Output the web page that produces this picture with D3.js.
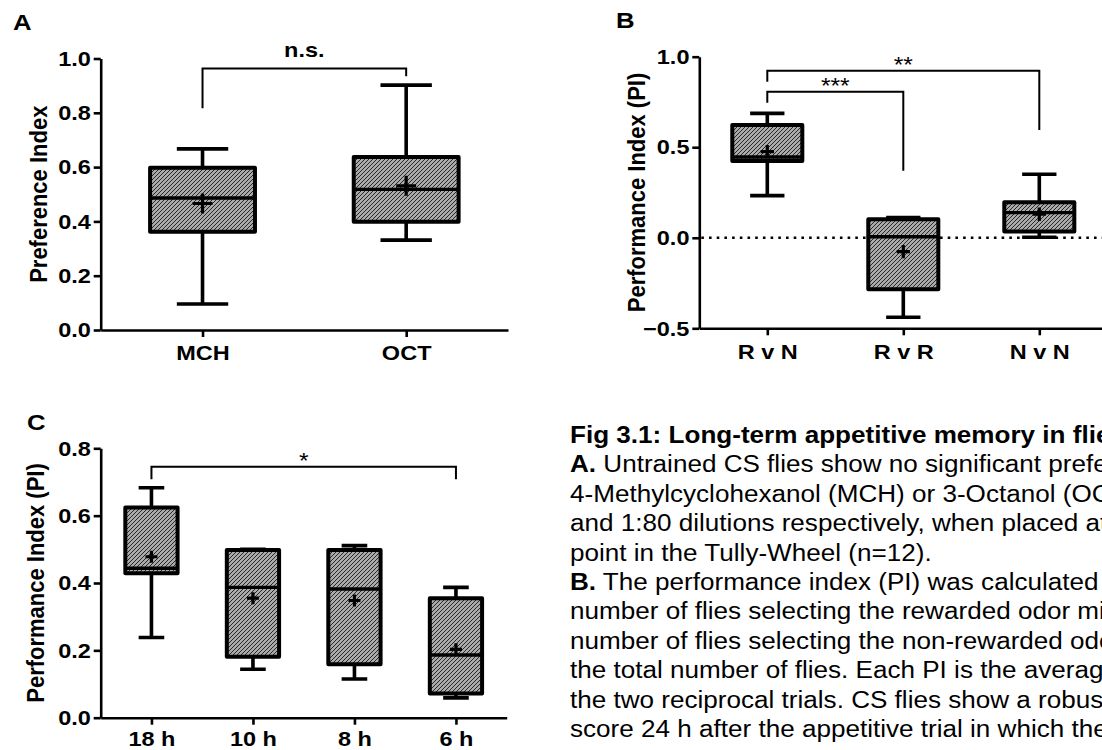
<!DOCTYPE html>
<html><head><meta charset="utf-8">
<script src="https://cdn.jsdelivr.net/npm/d3@7"></script>
<style>
body{margin:0;background:#fff;}
svg{display:block;overflow:hidden;font-family:"Liberation Sans",Arial,sans-serif;}
</style>
</head><body>
<svg id="chart" width="1102" height="750"></svg>
<script>
// ---------- DATA ----------
// Panel A
const catsA = ["MCH", "OCT"];
const minA  = [0.096, 0.331];
const q1A   = [0.362, 0.399];
const medA  = [0.486, 0.518];
const q3A   = [0.598, 0.637];
const maxA  = [0.667, 0.902];
const meanA = [0.466, 0.531];
const ticksA = [0, 0.2, 0.4, 0.6, 0.8, 1.0];
const sigA = [{from: "MCH", to: "OCT", y: 0.963, yFrom: 0.817, yTo: 0.935, label: "n.s."}];

// Panel B
const catsB = ["R v N", "R v R", "N v N"];
const minB  = [0.233, -0.439, 0.003];
const q1B   = [0.424, -0.284, 0.034];
const medB  = [0.446, 0.006, 0.139];
const q3B   = [0.623, 0.102, 0.196];
const maxB  = [0.687, 0.111, 0.351];
const meanB = [0.476, -0.077, 0.130];
const ticksB = [-0.5, 0, 0.5, 1.0];
const sigB = [
  {from: "R v N", to: "N v N", y: 0.923, yFrom: 0.862, yTo: 0.595, label: "**"},
  {from: "R v N", to: "R v R", y: 0.807, yFrom: 0.746, yTo: 0.370, label: "***"}
];

// Panel C
const catsC = ["18 h", "10 h", "8 h", "6 h"];
const minC  = [0.238, 0.144, 0.115, 0.059];
const q1C   = [0.429, 0.181, 0.159, 0.072];
const medC  = [0.444, 0.387, 0.382, 0.186];
const q3C   = [0.624, 0.498, 0.498, 0.355];
const maxC  = [0.683, 0.500, 0.511, 0.387];
const meanC = [0.478, 0.355, 0.348, 0.203];
const ticksC = [0, 0.2, 0.4, 0.6, 0.8];
const sigC = [{from: "18 h", to: "6 h", y: 0.745, yFrom: 0.708, yTo: 0.708, label: "*"}];

// Caption
const captionTitle = "Fig 3.1: Long-term appetitive memory in flies";
const captionLines = [
  ["A.", " Untrained CS flies show no significant preference"],
  ["", "4-Methylcyclohexanol (MCH) or 3-Octanol (OCT)"],
  ["", "and 1:80 dilutions respectively, when placed at"],
  ["", "point in the Tully-Wheel (n=12)."],
  ["B.", " The performance index (PI) was calculated as"],
  ["", "number of flies selecting the rewarded odor minus"],
  ["", "number of flies selecting the non-rewarded odor"],
  ["", "the total number of flies. Each PI is the average of"],
  ["", "the two reciprocal trials. CS flies show a robust"],
  ["", "score 24 h after the appetitive trial in which the"]
];

// ---------- DRAWING ----------
const SX = 1.12; // horizontal glyph stretch of the reference
const svg = d3.select("#chart");
const defs = svg.append("defs");
const pat = defs.append("pattern").attr("id", "hatch")
  .attr("patternUnits", "userSpaceOnUse").attr("width", 4).attr("height", 4);
pat.append("rect").attr("width", 4).attr("height", 4).attr("fill", "#aaaaaa");
pat.append("path").attr("d", "M-1,1 l2,-2 M0,4 l4,-4 M3,5 l2,-2")
  .attr("stroke", "#1a1a1a").attr("stroke-width", 0.9);

function txt(g, x, y, s, o) {
  const t = g.append("text")
    .attr("transform", `translate(${x},${y}) scale(${SX},1)` + (o.rotate ? ` rotate(${o.rotate})` : ""))
    .attr("font-size", o.size).attr("font-weight", o.weight || "normal")
    .attr("text-anchor", o.anchor || "start").attr("fill", "#000");
  t.text(s);
  return t;
}

function panel(cfg) {
  const g = svg.append("g");
  const x = d3.scalePoint().domain(cfg.cats).range(cfg.xr).padding(0.5);
  const y = d3.scaleLinear().domain(cfg.yd).range(cfg.yr);
  const step = x.step();
  const bw = step * 0.515, cw = bw * 0.49, pm = Math.max(6, bw * 0.095);

  // zero line
  if (cfg.zeroLine) {
    g.append("line").attr("x1", cfg.xr[0] + 2).attr("x2", 1102)
      .attr("y1", y(0)).attr("y2", y(0))
      .attr("stroke", "#000").attr("stroke-width", 2.6)
      .attr("stroke-dasharray", "2.6,5.1");
  }

  // axes
  const ax = g.append("g").attr("transform", `translate(${cfg.xr[0]},0)`)
    .call(d3.axisLeft(y).tickValues(cfg.ticks).tickFormat(d3.format(".1f"))
      .tickSize(7).tickSizeOuter(0).tickPadding(1.8));
  const bx = g.append("g").attr("transform", `translate(0,${cfg.yr[0]})`)
    .call(d3.axisBottom(x).tickSize(7).tickSizeOuter(0).tickPadding(cfg.xPad));
  [ax, bx].forEach(a => {
    a.select(".domain").attr("stroke", "#000").attr("stroke-width", 2.6);
    a.selectAll(".tick line").attr("stroke", "#000").attr("stroke-width", 2.6);
    a.selectAll(".tick text").attr("font-size", 21).attr("font-weight", "bold")
      .attr("font-family", "Liberation Sans, Arial, sans-serif").attr("fill", "#000")
      .attr("transform", `scale(${SX},1)`);
  });

  // y title
  txt(g, cfg.titleX, (cfg.yr[0] + cfg.yr[1]) / 2, cfg.title,
      {size: 22, weight: "bold", anchor: "middle", rotate: -90});

  // boxes
  cfg.cats.forEach((c, i) => {
    const cx = x(c);
    const bg = g.append("g");
    bg.append("path")
      .attr("d", `M${cx},${y(cfg.max[i])}V${y(cfg.q3[i])}M${cx},${y(cfg.q1[i])}V${y(cfg.min[i])}` +
                 `M${cx - cw / 2},${y(cfg.max[i])}H${cx + cw / 2}M${cx - cw / 2},${y(cfg.min[i])}H${cx + cw / 2}`)
      .attr("stroke", "#000").attr("stroke-width", 3.6).attr("fill", "none");
    bg.append("rect")
      .attr("x", cx - bw / 2).attr("y", y(cfg.q3[i]))
      .attr("width", bw).attr("height", y(cfg.q1[i]) - y(cfg.q3[i]))
      .attr("fill", "url(#hatch)").attr("stroke", "#000").attr("stroke-width", 4)
      .attr("stroke-linejoin", "round");
    bg.append("line").attr("x1", cx - bw / 2).attr("x2", cx + bw / 2)
      .attr("y1", y(cfg.med[i])).attr("y2", y(cfg.med[i]))
      .attr("stroke", "#000").attr("stroke-width", 3.4);
    const my = y(cfg.mean[i]);
    bg.append("path")
      .attr("d", `M${cx - pm},${my}H${cx + pm}M${cx},${my - pm}V${my + pm}`)
      .attr("stroke", "#000").attr("stroke-width", 3.2);
  });

  // significance brackets
  cfg.sig.forEach(s => {
    const x1 = x(s.from), x2 = x(s.to), yy = y(s.y);
    g.append("path")
      .attr("d", `M${x1},${y(s.yFrom)}V${yy}H${x2}V${y(s.yTo)}`)
      .attr("fill", "none").attr("stroke", "#000").attr("stroke-width", 2);
    const isStar = /^\*+$/.test(s.label);
    txt(g, (x1 + x2) / 2, isStar ? yy + 1 : yy - 11.5, s.label,
        {size: isStar ? 22 : 21, weight: isStar ? "normal" : "bold", anchor: "middle"});
  });

  txt(g, cfg.letter[1], cfg.letter[2], cfg.letter[0], {size: 23, weight: "bold"});
}

panel({cats: catsA, min: minA, q1: q1A, med: medA, q3: q3A, max: maxA, mean: meanA,
  ticks: ticksA, sig: sigA, xr: [100.7, 508], yd: [0, 1], yr: [330, 58.5], xPad: 8.5,
  title: "Preference Index", titleX: 46.5, letter: ["A", 13, 29.5]});

panel({cats: catsB, min: minB, q1: q1B, med: medB, q3: q3B, max: maxB, mean: meanB,
  ticks: ticksB, sig: sigB, xr: [699.3, 1107.3], yd: [-0.5, 1], yr: [328.3, 56.7], xPad: 8.5,
  title: "Performance Index (PI)", titleX: 645, letter: ["B", 616, 28.3], zeroLine: true});

panel({cats: catsC, min: minC, q1: q1C, med: medC, q3: q3C, max: maxC, mean: meanC,
  ticks: ticksC, sig: sigC, xr: [100.7, 506.7], yd: [0, 0.8], yr: [717.7, 448.3], xPad: 6,
  title: "Performance Index (PI)", titleX: 43.5, letter: ["C", 27, 430]});

// caption
const cap = svg.append("g");
const capX = 570, capY0 = 443, capDY = 29.4;
txt(cap, capX, capY0, captionTitle, {size: 23.3, weight: "bold"});
captionLines.forEach((ln, i) => {
  const t = cap.append("text")
    .attr("transform", `translate(${capX},${capY0 + (i + 1) * capDY}) scale(${SX},1)`)
    .attr("font-size", 23.3).attr("fill", "#000");
  if (ln[0]) t.append("tspan").attr("font-weight", "bold").text(ln[0]);
  t.append("tspan").text(ln[1]);
});
</script>
</body></html>
